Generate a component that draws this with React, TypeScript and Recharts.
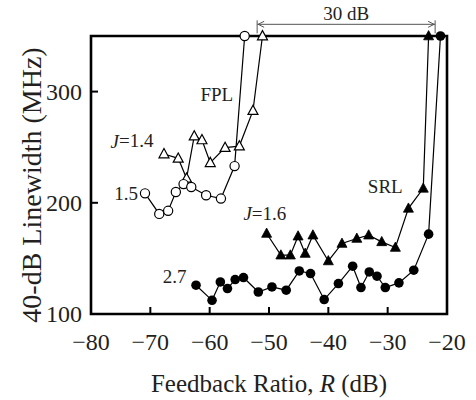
import { LineChart, Line, XAxis, YAxis, ReferenceArea, ReferenceDot, ReferenceLine } from "recharts";

const FONT = "'Liberation Serif', 'Times New Roman', serif";
const INK = "#231f20";

const xTicks = [-80, -70, -60, -50, -40, -30, -20];
const yTicks = [100, 200, 300];

// FPL, J = 1.5 (open circles)
const fplCircleR = [-70.9, -68.5, -67.0, -65.7, -64.4, -63.1, -60.6, -58.1, -55.8, -54.1];
const fplCircleW = [208.5, 190.0, 192.8, 209.7, 216.8, 214.2, 206.8, 203.8, 233.0, 350];

// FPL, J = 1.4 (open triangles)
const fplTriR = [-67.7, -65.3, -63.9, -62.6, -61.3, -59.9, -57.4, -55.0, -52.7, -51.1];
const fplTriW = [243.9, 240.0, 222.0, 260.0, 256.5, 236.0, 249.6, 251.0, 282.9, 350];

// SRL, J = 1.6 (filled triangles)
const srlTriR = [-50.4, -48.0, -46.4, -45.1, -43.9, -42.6, -40.0, -37.7, -35.2, -33.2, -31.0, -28.7, -26.5, -24.0, -23.1];
const srlTriW = [172.4, 152.9, 152.9, 170.0, 154.4, 170.9, 147.7, 163.4, 167.9, 170.9, 164.9, 159.8, 195.0, 213.0, 350];

// SRL, J = 2.7 (filled circles)
const srlCircleR = [-62.3, -59.6, -58.2, -57.0, -55.7, -54.3, -51.8, -49.5, -47.1, -44.9, -43.0, -40.7, -38.3, -35.9, -34.5, -33.1, -31.8, -30.4, -28.1, -25.6, -23.1, -21.1];
const srlCircleW = [125.9, 112.3, 128.8, 122.9, 131.0, 132.8, 119.8, 124.3, 121.4, 138.7, 136.4, 113.0, 127.4, 143.0, 123.8, 137.8, 134.0, 123.8, 128.0, 139.4, 171.8, 350];

// text notes on the plot (data coordinates)
const notes = [
  { x: -58.8, y: 297, pre: "", main: "FPL" },
  { x: -73.1, y: 256, pre: "J", main: "=1.4" },
  { x: -74.1, y: 208.7, pre: "", main: "1.5" },
  { x: -50.7, y: 190.6, pre: "J", main: "=1.6" },
  { x: -30.4, y: 214.4, pre: "", main: "SRL" },
  { x: -65.9, y: 133.3, pre: "", main: "2.7" },
];

const spanFrom = -52;
const spanTo = -22;

const toPoints = (xs: number[], ys: number[]) => xs.map((x, i) => ({ x, y: ys[i] }));

const minus = (v: number) => String(v).replace("-", "\u2212");

function BottomTick(props: any) {
  const { x, y, payload } = props;
  return (
    <g>
      <line x1={x} y1={y} x2={x} y2={y - 7} stroke="#000" strokeWidth={2} />
      <text x={x} y={y + 28} textAnchor="middle" dominantBaseline="central" fontFamily={FONT} fontSize={24} fill={INK}>
        {minus(payload.value)}
      </text>
    </g>
  );
}

function LeftTick(props: any) {
  const { x, y, payload } = props;
  return (
    <g>
      <line x1={x} y1={y} x2={x + 7} y2={y} stroke="#000" strokeWidth={2} />
      <text x={x - 9} y={y} textAnchor="end" dominantBaseline="central" fontFamily={FONT} fontSize={24} fill={INK}>
        {payload.value}
      </text>
    </g>
  );
}

function XTitle(props: any) {
  const { viewBox } = props;
  return (
    <text x={viewBox.x + viewBox.width / 2} y={viewBox.y + 69} textAnchor="middle" dominantBaseline="central" fontFamily={FONT} fontSize={25} fill={INK}>
      Feedback Ratio, <tspan fontStyle="italic">R</tspan> (dB)
    </text>
  );
}

function YTitle(props: any) {
  const { viewBox } = props;
  const cx = viewBox.x + 23;
  const cy = viewBox.y + viewBox.height / 2 + 10;
  return (
    <text x={cx} y={cy} transform={`rotate(-90 ${cx} ${cy})`} textAnchor="middle" dominantBaseline="central" fontFamily={FONT} fontSize={28} fill={INK}>
      40-dB Linewidth (MHz)
    </text>
  );
}

const openCircle = (p: any) => (
  <circle key={`oc-${p.index}`} cx={p.cx} cy={p.cy} r={4.6} fill="#fff" stroke="#000" strokeWidth={1.2} />
);
const filledCircle = (p: any) => <circle key={`fc-${p.index}`} cx={p.cx} cy={p.cy} r={4.8} fill="#000" />;
const triPoints = (cx: number, cy: number) => `${cx},${cy - 5.4} ${cx - 5},${cy + 3.8} ${cx + 5},${cy + 3.8}`;
const openTri = (p: any) => (
  <polygon key={`ot-${p.index}`} points={triPoints(p.cx, p.cy)} fill="#fff" stroke="#000" strokeWidth={1.2} />
);
const filledTri = (p: any) => <polygon key={`ft-${p.index}`} points={triPoints(p.cx, p.cy)} fill="#000" stroke="#000" strokeWidth={0.8} />;

function Note(props: any) {
  const { cx, cy, pre, main } = props;
  return (
    <text x={cx} y={cy} textAnchor="middle" dominantBaseline="central" fontFamily={FONT} fontSize={19} fill={INK}>
      {pre ? <tspan fontStyle="italic">{pre}</tspan> : null}
      {main}
    </text>
  );
}

function SpanArrow(props: any) {
  const { x1, y1, x2 } = props;
  const c = "#555";
  return (
    <g>
      <line x1={x1} y1={y1 - 4} x2={x1} y2={y1 + 9} stroke={c} strokeWidth={1} />
      <line x1={x2} y1={y1 - 4} x2={x2} y2={y1 + 9} stroke={c} strokeWidth={1} />
      <line x1={x1} y1={y1} x2={x2} y2={y1} stroke={c} strokeWidth={1} />
      <polyline points={`${x1 + 7},${y1 - 3} ${x1 + 1},${y1} ${x1 + 7},${y1 + 3}`} fill="none" stroke={c} strokeWidth={1} />
      <polyline points={`${x2 - 7},${y1 - 3} ${x2 - 1},${y1} ${x2 - 7},${y1 + 3}`} fill="none" stroke={c} strokeWidth={1} />
      <text x={(x1 + x2) / 2} y={y1 - 11} textAnchor="middle" dominantBaseline="central" fontFamily={FONT} fontSize={19} fill={INK}>
        30 dB
      </text>
    </g>
  );
}

export default function App() {
  return (
    <div style={{ position: "absolute", left: 0, top: 0, width: 476, height: 400 }}>
      <LineChart width={476} height={400} margin={{ top: 36, right: 29, bottom: 0, left: 8 }} style={{ fontFamily: FONT }}>
        <XAxis
          type="number"
          dataKey="x"
          domain={[-80, -20]}
          ticks={xTicks}
          interval={0}
          height={86}
          axisLine={false}
          tickLine={false}
          tickSize={0}
          tickMargin={0}
          tick={<BottomTick />}
          label={<XTitle />}
        />
        <YAxis
          type="number"
          domain={[100, 350]}
          ticks={yTicks}
          interval={0}
          width={83}
          axisLine={false}
          tickLine={false}
          tickSize={0}
          tickMargin={0}
          tick={<LeftTick />}
          label={<YTitle />}
        />
        <Line data={toPoints(fplTriR, fplTriW)} dataKey="y" stroke="#000" strokeWidth={1.2} dot={openTri} activeDot={false} isAnimationActive={false} />
        <Line data={toPoints(fplCircleR, fplCircleW)} dataKey="y" stroke="#000" strokeWidth={1.2} dot={openCircle} activeDot={false} isAnimationActive={false} />
        <Line data={toPoints(srlTriR, srlTriW)} dataKey="y" stroke="#000" strokeWidth={1.2} dot={filledTri} activeDot={false} isAnimationActive={false} />
        <Line data={toPoints(srlCircleR, srlCircleW)} dataKey="y" stroke="#000" strokeWidth={1.2} dot={filledCircle} activeDot={false} isAnimationActive={false} />
        <ReferenceArea x1={-80} x2={-20} y1={100} y2={350} fill="none" fillOpacity={0} stroke="#000" strokeWidth={2.6} ifOverflow="visible" />
        <ReferenceLine
          segment={[{ x: spanFrom, y: 360.5 }, { x: spanTo, y: 360.5 }]}
          ifOverflow="visible"
          shape={(p: any) => <SpanArrow {...p} />}
        />
        {notes.map((n) => (
          <ReferenceDot key={n.main + n.x} x={n.x} y={n.y} r={0} ifOverflow="visible" shape={(p: any) => <Note {...p} pre={n.pre} main={n.main} />} />
        ))}
      </LineChart>
    </div>
  );
}
